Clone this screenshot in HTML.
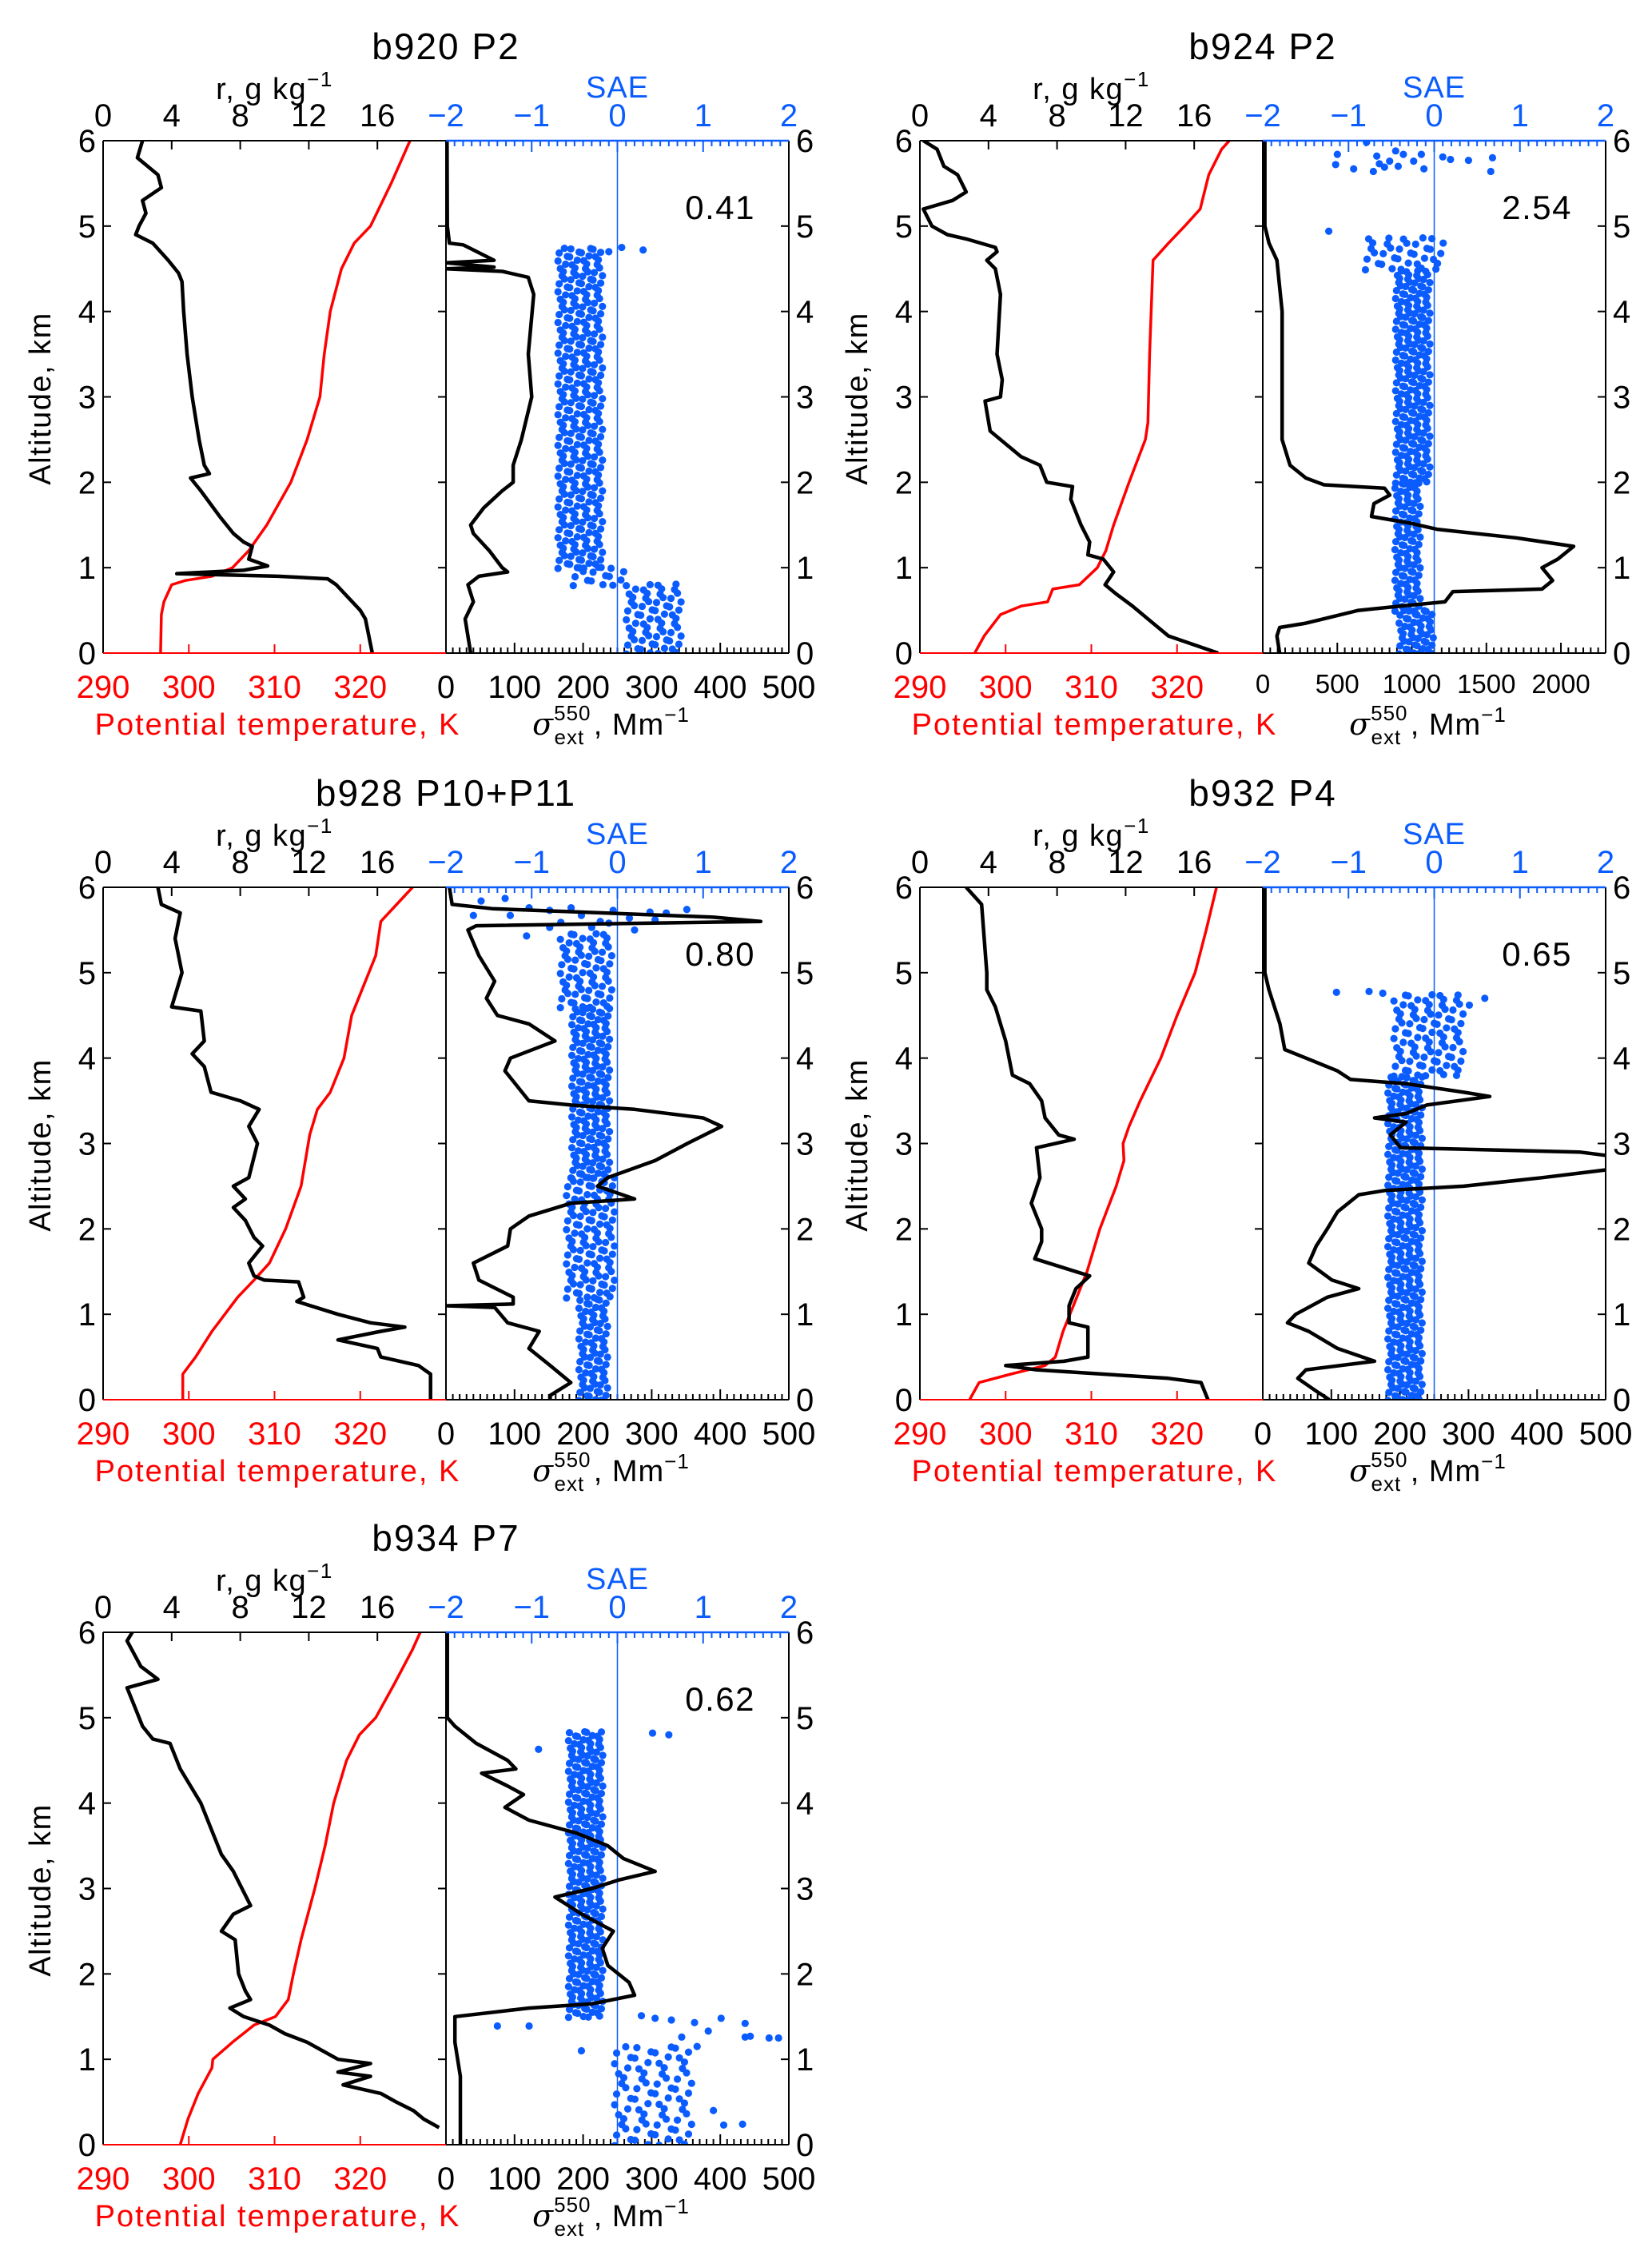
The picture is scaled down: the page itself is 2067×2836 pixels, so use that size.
<!DOCTYPE html>
<html><head><meta charset="utf-8"><title>Vertical profiles</title>
<style>
html,body{margin:0;padding:0;background:#fff;}
svg{display:block;font-family:"Liberation Sans",Arial,sans-serif;}
</style></head>
<body>
<svg id="chart" xmlns="http://www.w3.org/2000/svg" width="2067" height="2836" viewBox="0 0 2067 2836">
<rect x="0" y="0" width="2067" height="2836" fill="#ffffff"/>
</svg>
<script>
// ---------------- data ----------------
const panelTitles = ["b920  P2","b924  P2","b928  P10+P11","b932  P4","b934  P7"];
const saeValues = ["0.41","2.54","0.80","0.65","0.62"];
const sigmaMax = [500,2300,500,500,500];
const rTicks = [0,4,8,12,16];
const thetaTicks = [290,300,310,320];
const saeTicks = [-2,-1,0,1,2];
const altTicks = [0,1,2,3,4,5,6];
const sigmaTicks500 = [0,100,200,300,400,500];
const sigmaTicks2300 = [0,500,1000,1500,2000];

// b920
const b920_r = [[6,2.3],[5.8,2.0],[5.6,3.2],[5.45,3.4],[5.3,2.3],[5.15,2.5],[5.0,2.1],[4.9,1.9],[4.8,2.9],[4.6,3.8],[4.45,4.4],[4.35,4.6],[4.0,4.7],[3.5,4.9],[3.0,5.2],[2.5,5.6],[2.2,5.9],[2.1,6.2],[2.05,5.1],[1.9,5.7],[1.6,6.8],[1.4,7.6],[1.3,8.2],[1.25,8.7],[1.1,8.5],[1.02,9.6],[0.97,8.2],[0.93,4.3],[0.9,10.2],[0.87,13.1],[0.8,13.6],[0.5,15.0],[0.4,15.3],[0.0,15.7]];
const b920_theta = [[6,325.8],[5.5,323.6],[5,321.2],[4.8,319.3],[4.5,317.8],[4,316.5],[3.5,315.8],[3,315.3],[2.5,313.8],[2,311.9],[1.5,309.1],[1.2,307],[1.0,305.1],[0.9,302.7],[0.85,299.6],[0.8,298],[0.6,297.1],[0.45,296.8],[0,296.7]];
const b920_sigma = [[6,1.5],[5,2],[4.8,5],[4.78,25],[4.6,70],[4.57,0],[4.52,70],[4.5,0],[4.47,82],[4.4,120],[4.2,128],[3.5,120],[3.0,125],[2.5,110],[2.2,98],[2.0,98],[1.9,82],[1.7,55],[1.5,36],[1.4,40],[1.2,63],[1.0,82],[0.95,90],[0.9,48],[0.8,32],[0.6,40],[0.4,28],[0,36]];
const b920_bands = [[0,0.8,0.44,0.32,4,0.05],[0.8,1.0,-0.2,0.3,3,0.05],[1.0,4.75,-0.42,0.26,4,0.045]];
const b920_extra = [[4.72,0.3],[4.75,0.05],[4.7,-0.1]];

// b924
const b924_r = [[6,0.2],[5.9,1.0],[5.7,1.4],[5.6,2.2],[5.4,2.7],[5.3,1.9],[5.2,0.2],[5.0,0.7],[4.9,1.6],[4.85,2.7],[4.75,4.4],[4.7,4.5],[4.6,3.9],[4.5,4.4],[4.2,4.7],[3.5,4.5],[3.2,4.8],[3.0,4.7],[2.95,3.8],[2.6,4.1],[2.45,5.0],[2.3,5.9],[2.2,7.0],[2.0,7.4],[1.95,8.9],[1.8,8.8],[1.5,9.4],[1.3,9.9],[1.15,9.8],[1.1,10.7],[0.95,11.3],[0.8,10.8],[0.7,11.4],[0.55,12.4],[0.4,13.3],[0.2,14.5],[0.0,17.4]];
const b924_theta = [[0,296.4],[0.2,297.5],[0.45,299.4],[0.55,301.8],[0.6,304.9],[0.75,305.5],[0.8,308.6],[1.0,310.7],[1.2,311.7],[1.5,312.6],[2.0,314.4],[2.5,316.3],[2.7,316.6],[3.5,316.8],[4.6,317.2],[4.8,319.0],[5.0,320.9],[5.2,322.7],[5.6,323.7],[5.9,325.2],[6.0,326.1]];
const b924_sigma = [[6,14],[5,14],[4.8,42],[4.6,95],[4.0,130],[3.0,130],[2.5,130],[2.2,183],[2.05,289],[1.97,412],[1.93,817],[1.85,852],[1.75,746],[1.6,729],[1.52,993],[1.45,1169],[1.35,1697],[1.25,2085],[1.1,1979],[1.0,1873],[0.85,1944],[0.75,1873],[0.72,1275],[0.6,1222],[0.55,923],[0.5,641],[0.35,289],[0.3,113],[0.2,95],[0.0,113]];
const b924_bands = [[0,0.5,-0.2,0.2,4,0.045],[0.5,2.0,-0.3,0.15,3,0.045],[2.0,4.5,-0.24,0.2,4,0.045],[4.5,4.9,-0.33,0.45,5,0.06]];
const b924_extra = [[5.84,-1.13],[5.72,-1.15],[5.67,-0.94],[5.98,-0.79],[5.82,-0.67],[5.73,-0.64],[5.69,-0.58],[5.76,-0.52],[5.88,-0.45],[5.7,-0.42],[5.84,-0.36],[5.76,-0.24],[5.84,-0.15],[5.67,-0.12],[5.81,0.1],[5.78,0.19],[5.77,0.4],[5.8,0.68],[5.64,0.66],[5.64,-0.71],[4.94,-1.23]];

// b928
const b928_r = [[6,3.2],[5.8,3.4],[5.7,4.5],[5.4,4.2],[5.0,4.6],[4.6,4.0],[4.55,5.7],[4.2,5.9],[4.05,5.2],[3.9,5.9],[3.6,6.3],[3.5,8.0],[3.4,9.1],[3.2,8.5],[3.0,9.0],[2.6,8.5],[2.5,7.6],[2.35,8.3],[2.25,7.6],[2.1,8.3],[1.9,8.8],[1.8,9.3],[1.6,8.5],[1.45,8.8],[1.4,9.4],[1.38,11.4],[1.2,11.7],[1.15,11.3],[1.0,13.7],[0.9,15.6],[0.85,17.6],[0.8,16.2],[0.7,13.7],[0.6,16.0],[0.5,16.2],[0.4,18.4],[0.3,19.1],[0.0,19.1]];
const b928_theta = [[6,326.1],[5.6,322.4],[5.2,321.8],[4.8,320.2],[4.5,319],[4.0,318.1],[3.6,316.5],[3.4,315],[3.1,314.1],[2.5,313.1],[2.0,311.3],[1.6,309.4],[1.4,307.6],[1.2,305.7],[1.0,304.2],[0.8,302.7],[0.5,300.8],[0.3,299.3],[0.0,299.3]];
const b928_sigma = [[6,5],[5.8,9],[5.75,67],[5.65,390],[5.6,459],[5.55,44],[5.5,32],[5.2,48],[4.9,71],[4.7,59],[4.5,75],[4.4,121],[4.2,159],[4.0,94],[3.85,86],[3.5,121],[3.45,182],[3.4,275],[3.3,375],[3.2,402],[3.0,352],[2.8,305],[2.6,236],[2.5,221],[2.35,275],[2.3,182],[2.15,121],[2.0,94],[1.8,90],[1.6,40],[1.4,48],[1.2,98],[1.12,98],[1.1,2],[1.08,71],[0.9,90],[0.8,136],[0.6,121],[0.4,152],[0.2,182],[0.05,152],[0.0,152]];
const b928_bands = [[0,1.2,-0.27,0.17,3,0.045],[1.2,2.6,-0.3,0.28,4,0.05],[2.6,4.6,-0.3,0.22,4,0.045],[4.6,5.45,-0.35,0.3,4,0.05]];
const b928_extra = [[5.84,-1.59],[5.87,-1.31],[5.67,-1.68],[5.67,-1.25],[5.76,-1.03],[5.73,-0.79],[5.76,-0.54],[5.67,-0.42],[5.73,-0.05],[5.64,0.14],[5.71,0.38],[5.7,0.57],[5.74,0.81],[5.62,0.44],[5.43,-1.06],[5.53,-0.79],[5.5,0.2],[5.59,-0.66],[5.53,-0.3],[5.6,-0.2],[5.58,-0.1]];

// b932
const b932_r = [[6,2.7],[5.8,3.6],[5.0,3.9],[4.8,3.9],[4.6,4.4],[4.2,5.0],[3.8,5.4],[3.7,6.4],[3.5,7.1],[3.3,7.3],[3.1,8.1],[3.05,9.0],[2.95,6.8],[2.6,7.0],[2.3,6.5],[2.0,7.1],[1.85,7.1],[1.65,6.7],[1.5,9.1],[1.45,9.9],[1.3,9.1],[1.1,8.7],[0.9,8.7],[0.85,9.8],[0.5,9.8],[0.45,8.4],[0.4,5.0],[0.35,6.8],[0.25,14.5],[0.2,16.4],[0.0,16.8]];
const b932_theta = [[0,295.8],[0.2,296.9],[0.3,300.6],[0.4,304.6],[0.5,305.8],[0.8,306.7],[1.2,308.3],[1.5,309.5],[2.0,311],[2.5,312.9],[2.8,313.8],[3.0,313.7],[3.2,314.4],[3.5,315.7],[4.0,318.1],[4.5,320],[5.0,322.1],[5.5,323.4],[6.0,324.6]];
const b932_sigma = [[6,3],[5.0,3],[4.8,9],[4.4,25],[4.1,32],[4.0,63],[3.85,109],[3.75,128],[3.7,209],[3.6,293],[3.55,331],[3.45,239],[3.35,209],[3.3,163],[3.25,209],[3.1,186],[2.95,201],[2.9,462],[2.85,510],[2.7,510],[2.6,408],[2.5,293],[2.45,178],[2.4,140],[2.2,109],[2.0,94],[1.8,78],[1.6,67],[1.4,101],[1.3,140],[1.2,94],[1.0,48],[0.9,36],[0.8,67],[0.6,109],[0.45,163],[0.35,63],[0.25,51],[0.1,78],[0.0,97]];
const b932_bands = [[0,3.8,-0.33,0.2,4,0.045],[3.8,4.75,-0.05,0.4,5,0.055]];
const b932_extra = [[4.77,-1.14],[4.78,-0.76],[4.76,-0.6],[4.7,0.59],[4.62,0.41]];

// b934
const b934_r = [[6,1.7],[5.9,1.4],[5.6,2.2],[5.45,3.2],[5.35,1.4],[5.1,1.9],[4.9,2.3],[4.75,2.9],[4.7,3.9],[4.4,4.5],[4.0,5.7],[3.7,6.3],[3.4,6.9],[3.2,7.6],[2.8,8.6],[2.7,7.6],[2.5,6.9],[2.4,7.7],[2.0,7.9],[1.8,8.3],[1.7,8.6],[1.6,7.4],[1.5,8.2],[1.4,9.7],[1.3,10.6],[1.2,11.9],[1.1,12.8],[1.0,13.7],[0.95,15.6],[0.85,13.7],[0.8,15.6],[0.7,14.0],[0.6,16.2],[0.5,17.1],[0.4,18.1],[0.3,18.7],[0.2,19.6]];
const b934_theta = [[0,299],[0.3,299.9],[0.6,301.1],[0.9,302.7],[1.0,302.8],[1.2,305.1],[1.4,307.6],[1.5,310.1],[1.7,311.6],[2.0,312.2],[2.4,313.1],[3.0,314.7],[3.5,315.9],[4.0,316.9],[4.5,318.4],[4.8,319.9],[5.0,321.8],[5.4,324],[5.8,326.1],[6.0,327]];
const b934_sigma = [[6,2],[5.0,2],[4.9,13],[4.7,44],[4.5,90],[4.4,102],[4.35,52],[4.2,90],[4.1,113],[3.95,86],[3.8,121],[3.65,190],[3.5,236],[3.35,259],[3.2,305],[3.1,252],[3.0,213],[2.9,159],[2.7,198],[2.5,244],[2.3,228],[2.1,236],[1.9,267],[1.75,275],[1.65,213],[1.6,121],[1.5,13],[1.2,13],[0.8,21],[0.0,21]];
const b934_bands = [[0,1.15,0.44,0.45,4,0.06],[1.5,4.85,-0.36,0.2,4,0.045]];
const b934_extra = [[1.39,-1.4],[1.39,-1.03],[1.51,0.28],[1.48,0.44],[1.46,0.63],[1.43,0.9],[1.33,1.06],[1.48,1.21],[1.42,1.49],[1.27,1.55],[1.25,1.77],[1.25,1.88],[1.26,1.49],[1.26,0.75],[1.15,0.93],[0.23,1.24],[0.24,1.46],[0.4,1.12],[1.1,-0.42],[4.82,0.41],[4.8,0.6],[4.63,-0.92]];

// ---------------- layout ----------------
const W = 429, H = 641;
const origins = [[129,176],[1151,176],[129,1110],[1151,1110],[129,2042]];
const RED = "#ff0000", BLUE = "#0a5cff", BLACK = "#000000";
const TICK = 40, LAB = 38;
const svg = document.getElementById("chart");
const NS = "http://www.w3.org/2000/svg";

function mk(tag, attrs, parent){
  const e = document.createElementNS(NS, tag);
  for (const k in attrs) e.setAttribute(k, attrs[k]);
  (parent || svg).appendChild(e);
  return e;
}
function txt(str, x, y, size, color, anchor, parent, ls){
  const t = mk("text", {x:x, y:y, "font-size":size, fill:color, "text-anchor":anchor||"middle"}, parent);
  if (ls) t.setAttribute("letter-spacing", ls);
  t.textContent = str;
  return t;
}

const panels = [
  {r:b920_r, th:b920_theta, sg:b920_sigma, bands:b920_bands, extra:b920_extra},
  {r:b924_r, th:b924_theta, sg:b924_sigma, bands:b924_bands, extra:b924_extra},
  {r:b928_r, th:b928_theta, sg:b928_sigma, bands:b928_bands, extra:b928_extra},
  {r:b932_r, th:b932_theta, sg:b932_sigma, bands:b932_bands, extra:b932_extra},
  {r:b934_r, th:b934_theta, sg:b934_sigma, bands:b934_bands, extra:b934_extra}
];
const jitter = [0.0, 0.55, 0.2, 0.8, 0.35, 0.65, 0.1, 0.45];

panels.forEach(function(p, i){
  const x0 = origins[i][0], y0 = origins[i][1];
  const xR = x0 + W;
  const sMax = sigmaMax[i];
  const yA = a => y0 + H - a/6*H;
  const xr = v => x0 + v/20*W;
  const xt = v => x0 + (v-290)/40*W;
  const xs = v => xR + v/sMax*W;
  const xe = v => xR + (v+2)/4*W;

  const g = mk("g", {});
  
  

  const defs = mk("defs", {}, g);
  const cl = mk("clipPath", {id:"clipL"+i}, defs);
  mk("rect", {x:x0, y:y0, width:W, height:H}, cl);
  const cr = mk("clipPath", {id:"clipR"+i}, defs);
  mk("rect", {x:xR, y:y0, width:W, height:H}, cr);

  const tt = txt(panelTitles[i], xR, y0-102, 46, BLACK, "middle", g, 2);
  
  

  const rt = mk("text", {x:x0+W/2, y:y0-52, "font-size":LAB, fill:BLACK, "text-anchor":"middle", "letter-spacing":1.5}, g);
  rt.innerHTML = 'r,  g  kg<tspan dy="-16" font-size="26">−1</tspan>';
  
  

  const st = txt("SAE", xR+W/2, y0-54, LAB, BLUE, "middle", g, 1);
  
  

  rTicks.forEach(function(v){
    const l = txt(String(v), xr(v), y0-18, TICK, BLACK, "middle", g);
    
    
    if (v > 0) mk("line", {x1:xr(v), y1:y0, x2:xr(v), y2:y0+11, stroke:BLACK, "stroke-width":2}, g);
  });
  saeTicks.forEach(function(v){
    const l = txt(v < 0 ? "−" + Math.abs(v) : String(v), xe(v), y0-18, TICK, BLUE, "middle", g);
    
    
  });
  for (let k = -20; k <= 20; k++){
    const v = k/10;
    const len = (k % 10 === 0) ? 14 : 7;
    mk("line", {x1:xe(v), y1:y0, x2:xe(v), y2:y0+len, stroke:BLUE, "stroke-width":2}, g);
  }
  thetaTicks.forEach(function(v){
    const l = txt(String(v), xt(v), y0+H+56, TICK, RED, "middle", g);
    
    
    if (v > 290) mk("line", {x1:xt(v), y1:y0+H, x2:xt(v), y2:y0+H-11, stroke:RED, "stroke-width":2}, g);
  });
  const sTicks = sMax > 500 ? sigmaTicks2300 : sigmaTicks500;
  sTicks.forEach(function(v){
    const l = txt(String(v), xs(v), y0+H+(sMax > 500 ? 50 : 56), sMax > 500 ? 33 : TICK, BLACK, "middle", g);
    
    
  });
  const minorStep = sMax > 500 ? 50 : 10;
  const majorStep = sMax > 500 ? 500 : 100;
  for (let v = minorStep; v < sMax; v += minorStep){
    const len = (v % majorStep === 0) ? 13 : 7;
    mk("line", {x1:xs(v), y1:y0+H, x2:xs(v), y2:y0+H-len, stroke:BLACK, "stroke-width":2}, g);
  }
  altTicks.forEach(function(a){
    const y = yA(a);
    mk("line", {x1:x0, y1:y, x2:x0+10, y2:y, stroke:BLACK, "stroke-width":2}, g);
    mk("line", {x1:xR, y1:y, x2:xR-10, y2:y, stroke:BLACK, "stroke-width":2}, g);
    mk("line", {x1:xR+W, y1:y, x2:xR+W-10, y2:y, stroke:BLACK, "stroke-width":2}, g);
    const l1 = txt(String(a), x0-9, y+14, TICK, BLACK, "end", g);
    
    
    const l2 = txt(String(a), xR+W+9, y+14, TICK, BLACK, "start", g);
    
    
  });
  const at = mk("text", {x:0, y:0, "font-size":LAB, fill:BLACK, "text-anchor":"middle", "letter-spacing":1.5, transform:"translate(" + (x0-66) + "," + (y0+H/2+2) + ") rotate(-90)"}, g);
  at.textContent = "Altitude,  km";
  
  

  const pt = txt("Potential  temperature,  K", x0+W/2+4, y0+H+102, LAB, RED, "middle", g, 2);
  
  
  const sg = mk("text", {x:xR+W/2-8, y:y0+H+102, "font-size":LAB, fill:BLACK, "text-anchor":"middle", "letter-spacing":1}, g);
  sg.innerHTML = '<tspan font-style="italic" font-family="DejaVu Serif, serif">σ</tspan><tspan font-size="26" dy="-18">550</tspan><tspan font-size="26" dx="-46" dy="30">ext</tspan><tspan dy="-12">  ,  Mm</tspan><tspan font-size="26" dy="-16">−1</tspan>';
  
  

  const zl = mk("line", {x1:xe(0), y1:y0, x2:xe(0), y2:y0+H, stroke:BLUE, "stroke-width":1.5}, g);
  
  

  const dg = mk("g", {"clip-path":"url(#clipR"+i+")", fill:BLUE}, g);
  
  
  p.bands.forEach(function(b){
    const lo=b[0], hi=b[1], c=b[2], s=b[3], n=b[4], step=b[5];
    let row = 0;
    for (let a = lo; a <= hi + 1e-9; a += step){
      for (let k = 0; k < n; k++){
        const sh = jitter[(row*3 + k*5) % jitter.length];
        const f = ((k + sh) / n) * 2 - 1;
        const d = mk("circle", {cx:xe(c + s*f*1.05), cy:yA(a + step*0.4*(jitter[(row+k)%jitter.length]-0.5)), r:4.6}, dg);
        
        
      }
      row++;
    }
  });
  p.extra.forEach(function(pt2){
    const d = mk("circle", {cx:xe(pt2[1]), cy:yA(pt2[0]), r:4.6}, dg);
    
    
  });

  const pts = (arr, fx) => arr.map(q => fx(q[1]).toFixed(1) + "," + yA(q[0]).toFixed(1)).join(" ");
  const thl = mk("polyline", {points:pts(p.th, xt), fill:"none", stroke:RED, "stroke-width":3.5, "stroke-linejoin":"round", "clip-path":"url(#clipL"+i+")"}, g);
  
  
  const rl = mk("polyline", {points:pts(p.r, xr), fill:"none", stroke:BLACK, "stroke-width":4.5, "stroke-linejoin":"round", "clip-path":"url(#clipL"+i+")"}, g);
  
  
  const sl = mk("polyline", {points:pts(p.sg, xs), fill:"none", stroke:BLACK, "stroke-width":4.5, "stroke-linejoin":"round", "clip-path":"url(#clipR"+i+")"}, g);
  
  

  mk("line", {x1:x0, y1:y0, x2:xR, y2:y0, stroke:BLACK, "stroke-width":2}, g);
  mk("line", {x1:x0, y1:y0, x2:x0, y2:y0+H, stroke:BLACK, "stroke-width":2}, g);
  mk("line", {x1:xR, y1:y0, x2:xR, y2:y0+H, stroke:BLACK, "stroke-width":2}, g);
  mk("line", {x1:xR+W, y1:y0, x2:xR+W, y2:y0+H, stroke:BLACK, "stroke-width":2}, g);
  mk("line", {x1:x0, y1:y0+H, x2:xR, y2:y0+H, stroke:RED, "stroke-width":2}, g);
  mk("line", {x1:xR, y1:y0+H, x2:xR+W, y2:y0+H, stroke:BLACK, "stroke-width":2}, g);
  mk("line", {x1:xR, y1:y0, x2:xR+W, y2:y0, stroke:BLUE, "stroke-width":2.5}, g);

  const an = txt(saeValues[i], xR+W-42, y0+98, 42, BLACK, "end", g, 1.5);
  
  
});
</script>
</body></html>
